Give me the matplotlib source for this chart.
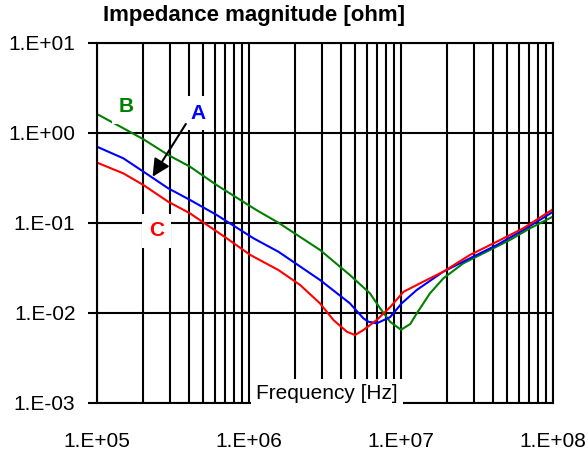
import numpy as np
import matplotlib
matplotlib.use('Agg')
import matplotlib.pyplot as plt
from matplotlib.ticker import LogLocator, FuncFormatter, NullFormatter

plt.rcParams['font.family'] = ['Liberation Sans', 'DejaVu Sans']

# curve B (green)
f_b = [1.0e5, 1.49e5, 2.02e5, 2.94e5, 4.09e5, 6.12e5, 1.12e6, 1.56e6, 2.93e6, 4.61e6,
       6.25e6, 7.28e6, 8.47e6, 1.0e7, 1.15e7, 1.27e7, 1.55e7, 1.90e7, 2.57e7, 3.85e7,
       5.21e7, 7.06e7, 1.0e8]
z_b = [1.61, 1.12, 0.845, 0.565, 0.419, 0.262, 0.138, 0.100, 0.0498, 0.0262,
       0.0164, 0.0112, 0.00794, 0.00646, 0.00748, 0.00984, 0.0164, 0.0241, 0.0354, 0.0498,
       0.0643, 0.0867, 0.117]

# curve A (blue)
f_a = [1.0e5, 1.49e5, 2.02e5, 2.94e5, 4.09e5, 6.12e5, 1.07e6, 1.56e6, 2.93e6, 4.61e6,
       5.65e6, 6.10e6, 6.92e6, 8.47e6, 1.01e7, 1.27e7, 1.90e7, 2.84e7, 4.27e7, 6.38e7, 1.0e8]
z_a = [0.698, 0.519, 0.369, 0.241, 0.179, 0.122, 0.0671, 0.0476, 0.0231, 0.0127,
       0.00867, 0.00794, 0.00762, 0.00891, 0.0127, 0.0179, 0.0286, 0.0402, 0.0565, 0.0830, 0.132]

# curve C (red)
f_c = [1.0e5, 1.49e5, 2.02e5, 2.94e5, 4.09e5, 6.12e5, 7.13e5, 1.02e6, 1.56e6, 2.17e6,
       2.93e6, 3.59e6, 4.40e6, 4.98e6, 5.65e6, 6.92e6, 8.47e6, 1.04e7, 1.40e7, 1.90e7,
       2.84e7, 4.27e7, 6.38e7, 1.0e8]
z_c = [0.465, 0.353, 0.262, 0.171, 0.127, 0.080, 0.0671, 0.0438, 0.0298, 0.0203,
       0.0127, 0.0083, 0.00615, 0.00565, 0.00641, 0.0083, 0.0115, 0.0171, 0.0221, 0.0286,
       0.0438, 0.0615, 0.0867, 0.141]

fig = plt.figure(figsize=(5.88, 4.54), dpi=100)
ax = fig.add_axes([0.165, 0.113, 0.7755, 0.793])

ax.plot(f_b, z_b, color='#008000', lw=1.5)
ax.plot(f_a, z_a, color='#0000ff', lw=1.5)
ax.plot(f_c, z_c, color='#ff0000', lw=1.5)

ax.set_xscale('log')
ax.set_yscale('log')
ax.set_xlim(1e5, 1e8)
ax.set_ylim(1e-3, 1e1)

ax.xaxis.set_major_locator(LogLocator(base=10))
ax.xaxis.set_minor_locator(LogLocator(base=10, subs=np.arange(2, 10)))
ax.xaxis.set_minor_formatter(NullFormatter())
ax.yaxis.set_major_locator(LogLocator(base=10))
ax.yaxis.set_minor_locator(plt.NullLocator())

fmt = FuncFormatter(lambda v, p: '1.E%+03d' % int(round(np.log10(v))))
ax.xaxis.set_major_formatter(fmt)
ax.yaxis.set_major_formatter(fmt)

ax.grid(True, which='both', axis='x', color='black', lw=1.5)
ax.grid(True, which='major', axis='y', color='black', lw=1.5)
for s in ax.spines.values():
    s.set_linewidth(1.5)

ax.tick_params(axis='x', which='both', length=0, pad=21, labelsize=15)
ax.tick_params(axis='y', which='major', length=6.5, width=1.5, pad=9, labelsize=15)

fig.text(0.175, 0.965, 'Impedance magnitude [ohm]', fontsize=16, fontweight='bold',
         ha='left', va='center')

box = dict(boxstyle='square,pad=0.35', fc='white', ec='none')
ax.text(1.56e5, 1.93, 'B', color='#008000', fontsize=15, fontweight='bold',
        ha='center', va='center', bbox=box)
ax.text(4.61e5, 1.65, 'A', color='#0000ff', fontsize=15, fontweight='bold',
        ha='center', va='center', bbox=box)
ax.text(2.46e5, 0.0809, 'C', color='#ff0000', fontsize=15, fontweight='bold',
        ha='center', va='center', bbox=box)
ax.annotate('', xy=(2.32e5, 0.324), xytext=(3.84e5, 1.25),
            arrowprops=dict(arrowstyle='-|>,head_length=0.7,head_width=0.35',
                            mutation_scale=15, color='black', lw=1.5,
                            shrinkA=0, shrinkB=0))

ax.text(0.504, 0.025, 'Frequency [Hz]', transform=ax.transAxes, fontsize=15,
        ha='center', va='center', zorder=5,
        bbox=dict(boxstyle='square,pad=0.25', fc='white', ec='none'))

fig.savefig('out.png', dpi=100)
